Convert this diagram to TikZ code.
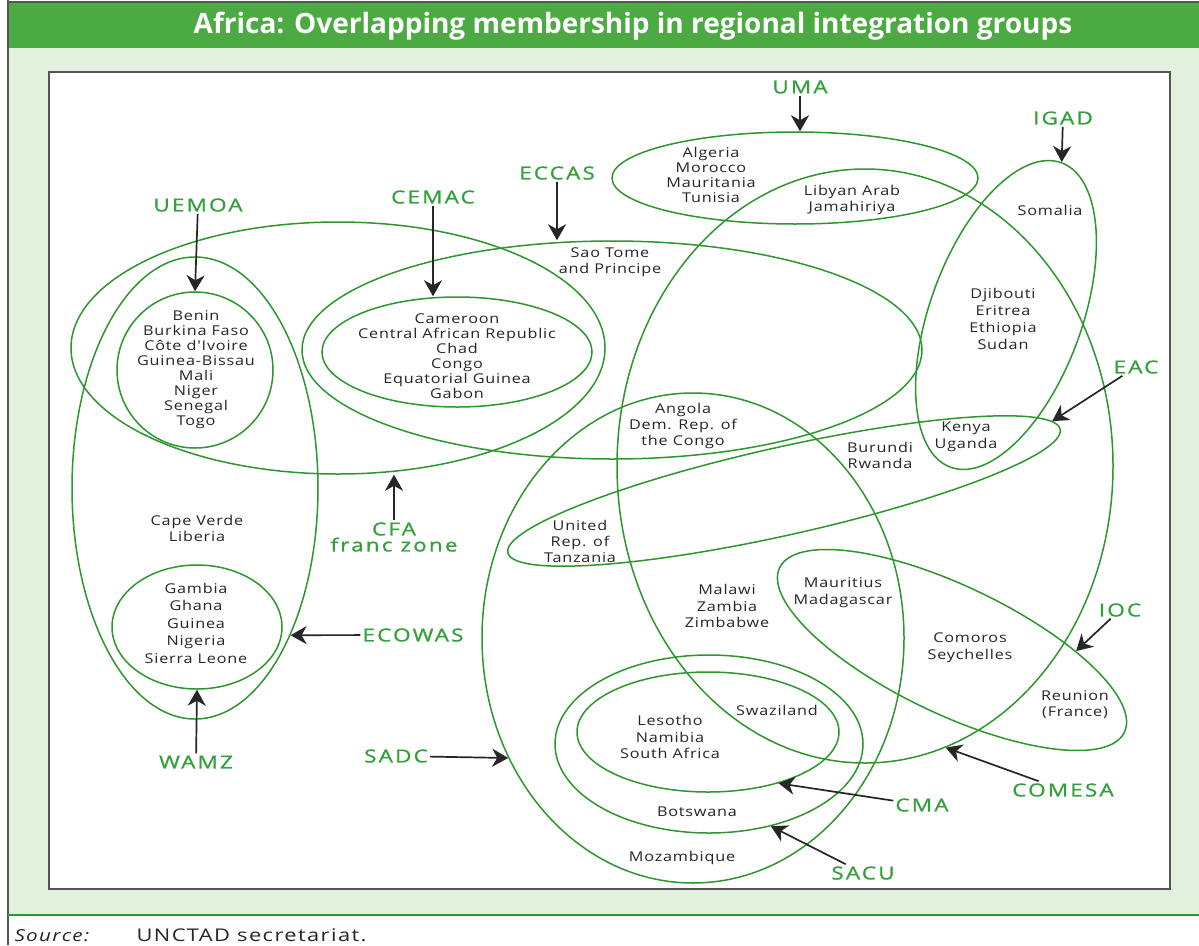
\documentclass[tikz,border=0pt]{standalone}
\usepackage{fontspec}
\setmainfont{Open Sans}
\newfontfamily\ctryfont[FakeStretch=1.2,LetterSpace=6]{Open Sans}
\newfontfamily\lblfont[FakeStretch=1.25,LetterSpace=12,FakeBold=1]{Open Sans}
\newfontfamily\srcfont[FakeStretch=1.25,LetterSpace=8]{Open Sans}
\usetikzlibrary{shapes.geometric,arrows.meta}

\definecolor{grpgreen}{RGB}{46,150,46}
\definecolor{lblgreen}{RGB}{52,160,60}
\definecolor{titlegreen}{RGB}{76,170,66}
\definecolor{panelgreen}{RGB}{226,240,222}
\definecolor{framegray}{RGB}{85,85,85}

\tikzset{
  grp/.style={ellipse, draw=grpgreen, line width=1.5pt, inner sep=0pt},
  ctry/.style={font=\ctryfont\fontsize{13.5}{16}\selectfont, align=center, inner sep=1pt, text=black!85},
  rowgap/.style={font=\ctryfont\fontsize{13.5}{#1}\selectfont},
  lbl/.style={font=\lblfont\fontsize{18}{16}\selectfont, text=lblgreen, align=center, inner sep=2pt},
  arr/.style={-{Stealth[length=16pt,width=18pt,inset=5pt]}, line width=1.7pt, black!85}
}

\begin{document}
\begin{tikzpicture}[x=1pt,y=-1pt]
\useasboundingbox (0,0) rectangle (1199,945);
% frame and title bar
\fill[white] (0,0) rectangle (1199,945);
\fill[panelgreen] (8,48) rectangle (1199,915);
\fill[titlegreen] (8,3) rectangle (1199,48);
\draw[framegray, line width=2pt] (8,2) -- (1199,2);
\draw[framegray, line width=2pt] (8,0) -- (8,945);
\draw[grpgreen, line width=2pt] (8,915) -- (1199,915);
\filldraw[fill=white, draw=framegray, line width=2.5pt] (49,72) rectangle (1170,889);
\node[anchor=base, text=white, font=\bfseries\fontsize{28}{30}\selectfont] (title) at (633,33)
  {Africa: Overlapping membership in regional integration groups};
\node[anchor=base west, font=\srcfont\itshape\fontsize{16.5}{18}\selectfont, text=black!85] (srclbl) at (11,941) {Source:};
\node[anchor=base west, font=\srcfont\fontsize{17.5}{18}\selectfont, text=black!85] (srctxt) at (133,941) {UNCTAD secretariat.};

% groups
\node[grp, minimum width=246, minimum height=462] (ecowas) at (195,488) {};
\node[grp, minimum width=156, minimum height=156] (uemoa) at (195,370) {};
\node[grp, minimum width=170, minimum height=124] (wamz) at (197,627) {};
\node[grp, minimum width=534, minimum height=252] (cfa) at (338,348) {};
\node[grp, minimum width=270, minimum height=110] (cemac) at (457,352) {};
\node[grp, minimum width=620, minimum height=218] (eccas) at (612,350) {};
\node[grp, minimum width=366, minimum height=92] (uma) at (795,178) {};
\node[grp, minimum width=496, minimum height=594] (comesa) at (865,466) {};
\node[grp, minimum width=324, minimum height=152, rotate=70] (igad) at (1006,315) {};
\node[grp, minimum width=566, minimum height=88, rotate=12.6] (eac) at (784,491) {};
\node[grp, minimum width=382, minimum height=128, rotate=-25.5] (ioc) at (952,650) {};
\node[grp, minimum width=422, minimum height=490] (sadc) at (693,638) {};
\node[grp, minimum width=308, minimum height=178] (sacu) at (709,744) {};
\node[grp, minimum width=262, minimum height=120] (cma) at (708,732) {};

% member countries
\node[ctry, rowgap=15] (uemoatxt) at (196,370) {Benin\\Burkina Faso\\Côte d'Ivoire\\Guinea-Bissau\\Mali\\Niger\\Senegal\\Togo};
\node[ctry] (capetxt) at (197,528) {Cape Verde\\Liberia};
\node[ctry, rowgap=17.5] (wamztxt) at (196,623) {Gambia\\Ghana\\Guinea\\Nigeria\\Sierra Leone};
\node[ctry, rowgap=15] (cemactxt) at (457,356) {Cameroon\\Central African Republic\\Chad\\Congo\\Equatorial Guinea\\Gabon};
\node[ctry] (saotxt) at (610,262) {Sao Tome\\and Principe};
\node[ctry, rowgap=15] (umatxt) at (711,175) {Algeria\\Morocco\\Mauritania\\Tunisia};
\node[ctry] (libyatxt) at (852,200) {Libyan Arab\\Jamahiriya};
\node[ctry] (somaliatxt) at (1050,210) {Somalia};
\node[ctry, rowgap=17] (horntxt) at (1003,319) {Djibouti\\Eritrea\\Ethiopia\\Sudan};
\node[ctry, rowgap=17] (kenyatxt) at (966,437) {Kenya\\Uganda};
\node[ctry] (burunditxt) at (880,455) {Burundi\\Rwanda};
\node[ctry] (angolatxt) at (683,426) {Angola\\Dem. Rep. of\\the Congo};
\node[ctry] (tanzaniatxt) at (580,541) {United\\Rep. of\\Tanzania};
\node[ctry, rowgap=16.5] (malawitxt) at (727,606) {Malawi\\Zambia\\Zimbabwe};
\node[ctry, rowgap=17] (mauritiustxt) at (843,593) {Mauritius\\Madagascar};
\node[ctry, rowgap=17] (comorostxt) at (970,648) {Comoros\\Seychelles};
\node[ctry] (reuniontxt) at (1075,705) {Reunion\\(France)};
\node[ctry] (swazitxt) at (777,710) {Swaziland};
\node[ctry, rowgap=16.5] (lesothotxt) at (670,737) {Lesotho\\Namibia\\South Africa};
\node[ctry] (botstxt) at (697,812) {Botswana};
\node[ctry] (moztxt) at (682,858) {Mozambique};

% group labels
\node[lbl] (uemoalbl) at (198,205) {UEMOA};
\node[lbl] (cemaclbl) at (433,197) {CEMAC};
\node[lbl] (eccaslbl) at (557,173) {ECCAS};
\node[lbl] (umalbl) at (800,87) {UMA};
\node[lbl] (igadlbl) at (1063,118) {IGAD};
\node[lbl] (eaclbl) at (1136,367) {EAC};
\node[lbl] (cfalbl) at (394,537) {CFA\\franc zone};
\node[lbl] (ecowaslbl) at (413,635) {ECOWAS};
\node[lbl] (wamzlbl) at (196,762) {WAMZ};
\node[lbl] (sadclbl) at (396,756) {SADC};
\node[lbl] (cmalbl) at (922,805) {CMA};
\node[lbl] (saculbl) at (863,873) {SACU};
\node[lbl] (comesalbl) at (1063,790) {COMESA};
\node[lbl] (ioclbl) at (1120,610) {IOC};

% pointers
\draw[arr] (uemoalbl) -- (uemoa.north);
\draw[arr] (cemaclbl) -- (cemaclbl |- cemac.north);
\draw[arr] (eccaslbl) -- (eccaslbl |- eccas.north);
\draw[arr] (umalbl) -- (umalbl |- uma.north);
\draw[arr] (igadlbl) -- (igad.east);
\draw[arr] (eaclbl) -- (eac.2);
\draw[arr] (cfalbl) -- (cfalbl |- cfa.south);
\draw[arr] (ecowaslbl) -- (ecowas.-57);
\draw[arr] (wamzlbl) -- (wamz.south);
\draw[arr] (sadclbl) -- (sadc.213);
\draw[arr] (cmalbl) -- (cma.-36);
\draw[arr] (saculbl) -- (sacu.-53);
\draw[arr] (comesalbl) -- (comesa.-74);
\draw[arr] (ioclbl) -- (ioc.25);
\end{tikzpicture}
\end{document}
